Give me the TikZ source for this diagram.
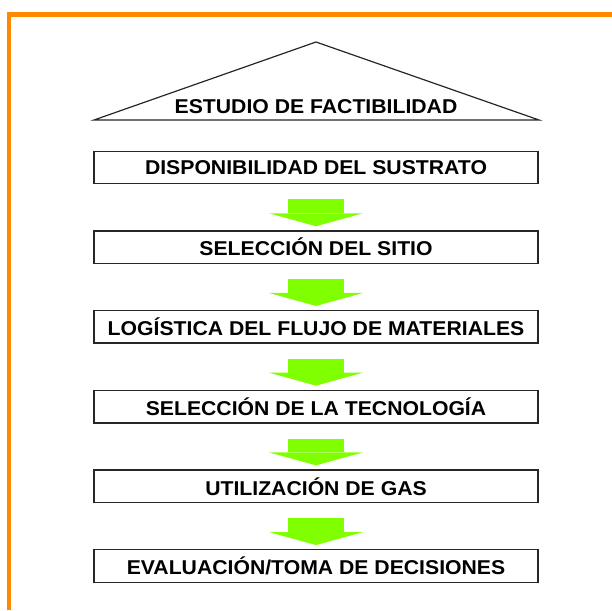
\documentclass[tikz,border=0pt]{standalone}
\usepackage{fontspec}
\setmainfont{Liberation Sans}[FakeStretch=1.06]
\usetikzlibrary{arrows.meta,positioning}
\definecolor{frameorange}{RGB}{255,136,0}
\definecolor{flowgreen}{RGB}{128,255,0}

\begin{document}
\begin{tikzpicture}[
    x=1pt, y=-1pt,
    node distance=45.8pt,
    stage/.style={draw=black!85, line width=1.4pt, fill=white, minimum width=444pt, minimum height=32.5pt, inner sep=0pt, font=\fontsize{20}{24}\selectfont\bfseries},
    roof/.style={draw=black!85, line width=1.2pt, line join=miter},
    flow/.style={draw=flowgreen, line width=56pt, -{Triangle[length=13pt, width=94pt, line width=0pt]}},
    frame/.style={draw=frameorange, line width=4.5pt, line join=miter},
]
\useasboundingbox (0,0) rectangle (612,610);
\draw[frame] (9,610) -- (9,14.5) -- (612,14.5);
\coordinate (apex) at (316,42);
\coordinate (baseL) at (94,120);
\coordinate (baseR) at (539,120);
\draw[roof] (baseL) -- (apex) -- (baseR) -- cycle;
\node[font=\fontsize{20}{24}\selectfont\bfseries] (title) at (316,107) {ESTUDIO DE FACTIBILIDAD};
\node[stage] (sustrato) at (316,167.5) {DISPONIBILIDAD DEL SUSTRATO};
\node[stage, below=of sustrato] (sitio) {SELECCIÓN DEL SITIO};
\node[stage, below=of sitio] (logistica) {LOGÍSTICA DEL FLUJO DE MATERIALES};
\node[stage, below=of logistica] (tecnologia) {SELECCIÓN DE LA TECNOLOGÍA};
\node[stage, below=of tecnologia] (gas) {UTILIZACIÓN DE GAS};
\node[stage, below=of gas] (decision) {EVALUACIÓN/TOMA DE DECISIONES};
\draw[flow] ([yshift=-15pt]sustrato.south) -- ([yshift=4pt]sitio.north);
\draw[flow] ([yshift=-15pt]sitio.south) -- ([yshift=4pt]logistica.north);
\draw[flow] ([yshift=-15pt]logistica.south) -- ([yshift=4pt]tecnologia.north);
\draw[flow] ([yshift=-15pt]tecnologia.south) -- ([yshift=4pt]gas.north);
\draw[flow] ([yshift=-15pt]gas.south) -- ([yshift=4pt]decision.north);
\end{tikzpicture}
\end{document}
